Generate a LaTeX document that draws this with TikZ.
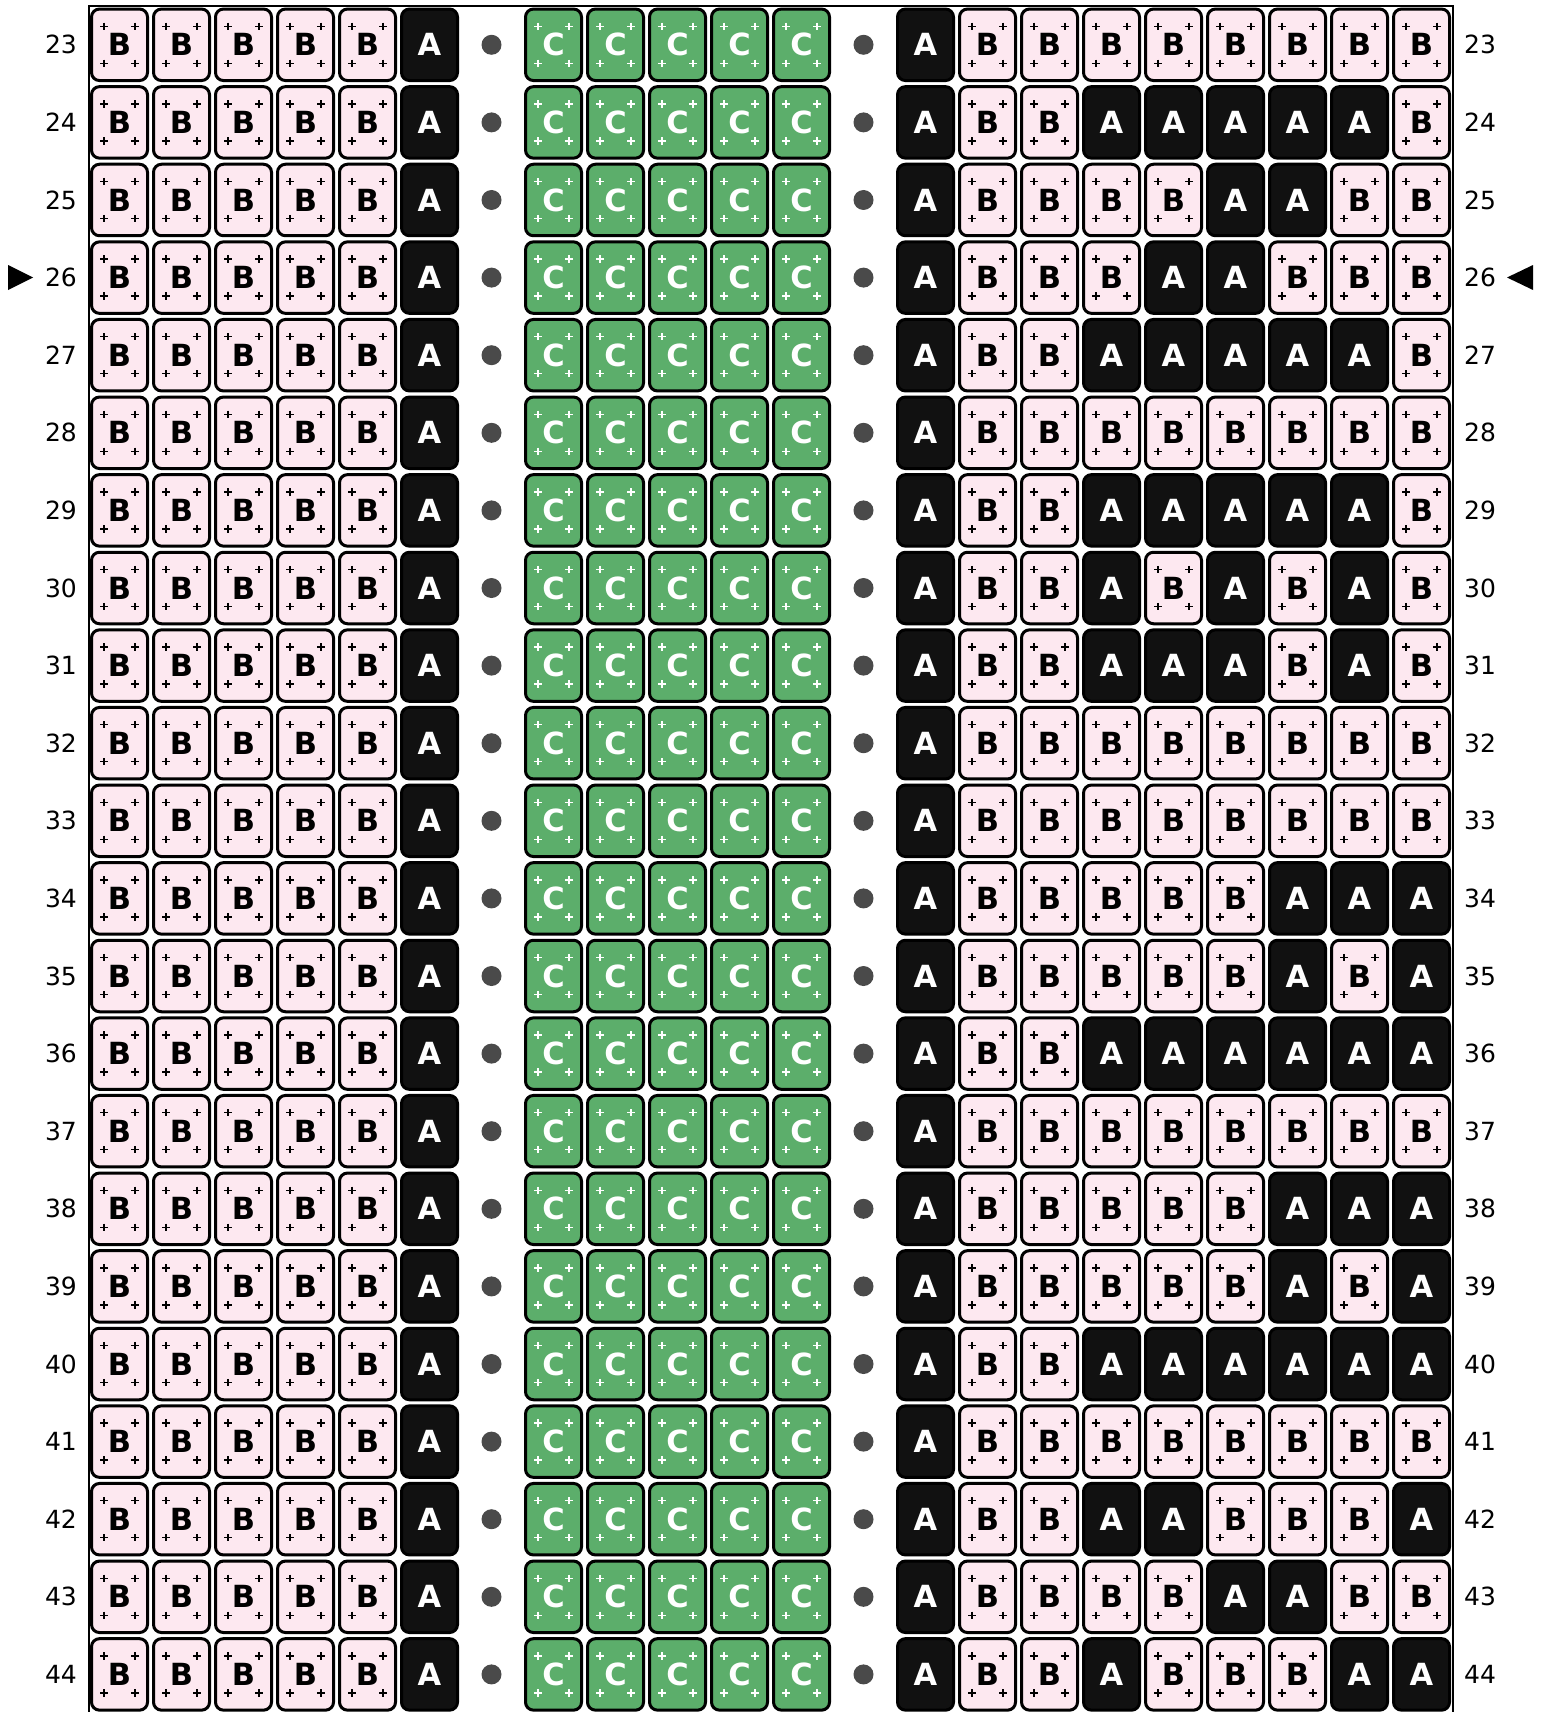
\documentclass[tikz,border=0pt]{standalone}
\usepackage{fontspec}
\setmainfont{DejaVu Sans}
\definecolor{pinkB}{HTML}{FDE8F0}
\definecolor{blackA}{HTML}{111111}
\definecolor{greenC}{HTML}{5CAE6B}
\definecolor{dotgray}{HTML}{4A4A4A}
\begin{document}
\begin{tikzpicture}[x=1pt,y=-1pt,
  pluses/.style={path picture={
    \foreach \sx in {-15.5,15.5} \foreach \sy in {-18.5,18.5} {
      \draw[line width=1.4pt,#1]
        ([shift={({\sx-3.7},\sy)}]path picture bounding box.center) -- ++(7.4,0)
        ([shift={(\sx,{\sy-3.7})}]path picture bounding box.center) -- ++(0,7.4);
    }}},
  cell/.style={draw=black, line width=3pt, rounded corners=8pt,
    minimum width=56pt, minimum height=71.5pt, inner sep=0pt,
    font=\bfseries\fontsize{30.5}{30.5}\selectfont},
  cellB/.style={cell, fill=pinkB, text=black, pluses=black},
  cellA/.style={cell, fill=blackA, text=white},
  cellC/.style={cell, fill=greenC, text=white, pluses=white},
  dot/.style={circle, fill=dotgray, minimum size=20pt, inner sep=0pt},
  rowlab/.style={font=\fontsize{25}{25}\selectfont, text=black, inner sep=0pt}]
\useasboundingbox (0,0) rectangle (1551,1712);
\foreach \p [count=\i from 0] in {
  {B,B,B,B,B,B,B,B},
  {B,B,A,A,A,A,A,B},
  {B,B,B,B,A,A,B,B},
  {B,B,B,A,A,B,B,B},
  {B,B,A,A,A,A,A,B},
  {B,B,B,B,B,B,B,B},
  {B,B,A,A,A,A,A,B},
  {B,B,A,B,A,B,A,B},
  {B,B,A,A,A,B,A,B},
  {B,B,B,B,B,B,B,B},
  {B,B,B,B,B,B,B,B},
  {B,B,B,B,B,A,A,A},
  {B,B,B,B,B,A,B,A},
  {B,B,A,A,A,A,A,A},
  {B,B,B,B,B,B,B,B},
  {B,B,B,B,B,A,A,A},
  {B,B,B,B,B,A,B,A},
  {B,B,A,A,A,A,A,A},
  {B,B,B,B,B,B,B,B},
  {B,B,A,A,B,B,B,A},
  {B,B,B,B,A,A,B,B},
  {B,B,A,B,B,B,A,A}} {
  \pgfmathsetmacro\yy{44.8+77.6*\i}
  \pgfmathtruncatemacro\lab{23+\i}
  \node[rowlab] (ll\i) at (61,\yy) {\lab};
  \node[rowlab] (rl\i) at (1480,\yy) {\lab};
  \foreach \j in {0,...,4} \node[cellB] (c\i-\j) at ({119.5+62*\j},\yy) {B};
  \node[cellA] (c\i-5) at (429.5,\yy) {A};
  \node[dot] (d\i-6) at (491.5,\yy) {};
  \foreach \j in {7,...,11} \node[cellC] (c\i-\j) at ({119.5+62*\j},\yy) {C};
  \node[dot] (d\i-12) at (863.5,\yy) {};
  \node[cellA] (c\i-13) at (925.5,\yy) {A};
  \foreach \t [count=\k from 14] in \p \node[cell\t] (c\i-\k) at ({119.5+62*\k},\yy) {\t};
}
\draw[line width=2pt] (88.5,1712) -- (88.5,6) -- (1452.5,6) -- (1452.5,1712);
\fill (8,265) -- (8,290) -- (33,277.5) -- cycle;
\fill (1533,265) -- (1533,290) -- (1507,277.5) -- cycle;
\end{tikzpicture}
\end{document}
